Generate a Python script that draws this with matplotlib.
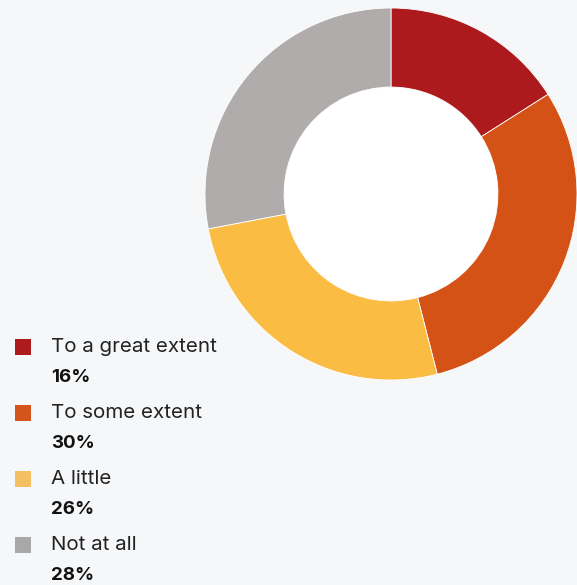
import matplotlib.pyplot as plt
from matplotlib.patches import Rectangle, Circle

labels = ['To a great extent', 'To some extent', 'A little', 'Not at all']
values = [16, 30, 26, 28]
pie_colors = ['#AD1A1E', '#D45216', '#FBBC44', '#B0ACAB']
key_colors = ['#AD1B1E', '#D4541A', '#F4BE62', '#A8A8A8']

bg = '#F6F7F9'
plt.rcParams['font.family'] = ['Inter', 'DejaVu Sans']

fig = plt.figure(figsize=(5.77, 5.85), dpi=100, facecolor=bg)
W, H = 577, 585

# donut: centre (391, 194) px from top-left, outer radius 186 px
cx, cy, r = 391, 194, 186
ax = fig.add_axes([(cx - r) / W, (H - cy - r) / H, 2 * r / W, 2 * r / H])
ax.set_facecolor(bg)
hole = 0.575
ax.pie(values, colors=pie_colors, startangle=90, counterclock=False,
       radius=1, wedgeprops=dict(width=1 - hole, edgecolor='white', linewidth=0.6))
ax.add_patch(Circle((0, 0), hole - 0.002, facecolor='white', edgecolor='none'))
ax.set_xlim(-1, 1)
ax.set_ylim(-1, 1)
ax.axis('off')

# legend at lower left
for i, (lab, val, col) in enumerate(zip(labels, values, key_colors)):
    y = 347 + i * 66
    fig.patches.append(Rectangle((15 / W, 1 - (y + 8) / H), 16 / W, 16 / H,
                                 transform=fig.transFigure, facecolor=col,
                                 edgecolor='none'))
    fig.text(51 / W, 1 - y / H, lab, fontsize=14.8, color='#222222',
             va='center', ha='left')
    fig.text(51 / W, 1 - (y + 30) / H, f'{val}%', fontsize=13.5,
             fontweight='bold', color='#111111', va='center', ha='left')

fig.savefig('out.png', dpi=100, facecolor=bg)
